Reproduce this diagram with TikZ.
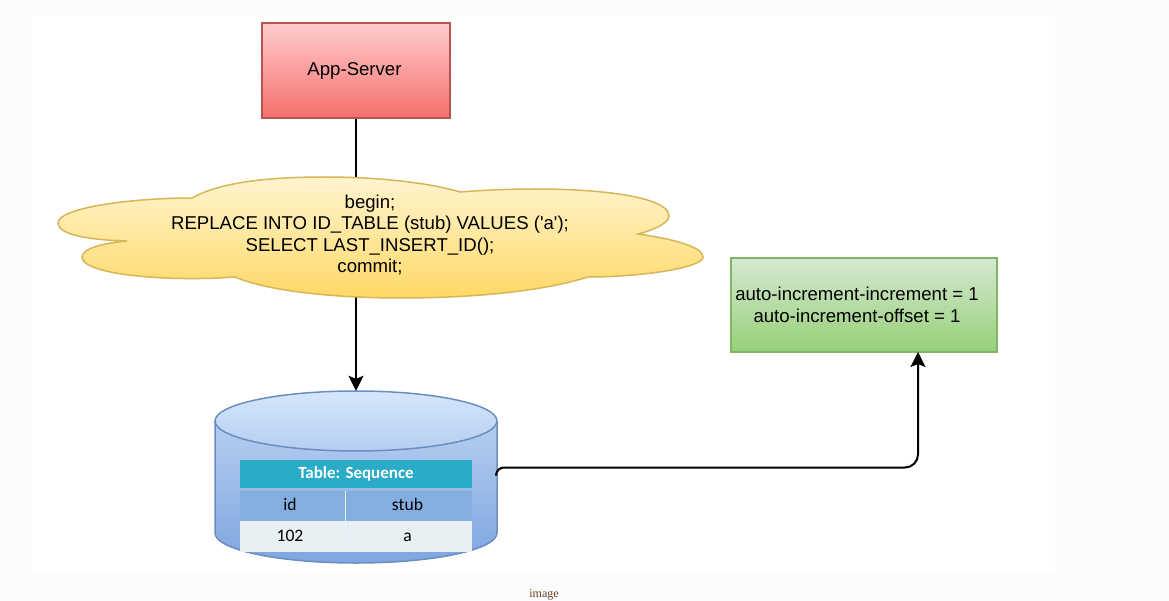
\documentclass[tikz,border=0pt]{standalone}
\usepackage{fontspec}
\setmainfont{Liberation Sans}
\newfontfamily\tablefont{Carlito}
\newfontfamily\captionfont{Liberation Serif}
\usetikzlibrary{arrows.meta,positioning}

\definecolor{pagegray}{HTML}{FCFCFC}
\definecolor{redtop}{HTML}{FFCDCD}
\definecolor{redbot}{HTML}{F56F6C}
\definecolor{redline}{HTML}{B85450}
\definecolor{cloudtop}{HTML}{FFF4D0}
\definecolor{cloudbot}{HTML}{FFD966}
\definecolor{cloudline}{HTML}{D6B656}
\definecolor{greentop}{HTML}{D5E8D4}
\definecolor{greenbot}{HTML}{97D077}
\definecolor{greenline}{HTML}{82B366}
\definecolor{dbtop}{HTML}{D6E6FC}
\definecolor{dbmid}{HTML}{B5CEF0}
\definecolor{dbbot}{HTML}{7EA6E0}
\definecolor{dbline}{HTML}{6C8EBF}
\definecolor{titlecyan}{HTML}{2AACC8}
\definecolor{headblue}{HTML}{84AEE0}
\definecolor{rowgray}{HTML}{E9F0F4}

\tikzset{
  flowbox/.style={draw, line width=1.5pt, inner sep=0pt},
  flowtext/.style={inner sep=0pt, align=center, font=\fontsize{18.6}{21.5}\selectfont},
  conn/.style={line width=2pt, -{Stealth[length=15pt,width=15pt,inset=3pt]}},
  cell/.style={inner sep=0pt, text height=11pt, text depth=3pt, font=\tablefont\fontsize{17.6}{19}\selectfont}
}

\begin{document}
\begin{tikzpicture}[x=1pt,y=-1pt]
  \useasboundingbox (0,0) rectangle (1169,601);
  % page and white panel
  \fill[pagegray] (0,0) rectangle (1169,601);
  \fill[white] (32,16) rectangle (1055,573);

  %-----------------------------
  % boxes
  \node[flowbox, minimum width=188pt, minimum height=95pt, draw=redline,
        top color=redtop, bottom color=redbot] (appserver) at (356,70.5) {};
  \node[flowtext] (apptext) at (354.5,71) {App-Server};
  \node[flowbox, minimum width=266pt, minimum height=94pt, draw=greenline,
        top color=greentop, bottom color=greenbot] (config) at (864,305) {};
  \node[flowtext] (configtext) at (857,305)
        {auto-increment-increment = 1\\auto-increment-offset = 1};

  %-----------------------------
  % the cylinder, with an empty node to aim at
  \node[minimum width=282pt, minimum height=172pt, inner sep=0pt] (dbnode) at (356,477) {};
  \fill[top color=dbmid, bottom color=dbbot] (215,421) -- (215,533)
       arc[start angle=180, end angle=360, x radius=141, y radius=-30]
       -- (497,421) -- cycle;
  \draw[dbline, line width=1.5pt] (215,421) -- (215,533)
       arc[start angle=180, end angle=360, x radius=141, y radius=-30] -- (497,421);
  \draw[dbline, line width=1.5pt, top color=dbtop, bottom color=dbmid]
       (356,421) ellipse[x radius=141, y radius=30];

  % table on the cylinder
  \fill[titlecyan] (240,460) rectangle (472,488);
  \fill[headblue] (240,491) rectangle (472,521);
  \fill[rowgray] (240,521) rectangle (472,552);
  \draw[white!85!headblue, line width=0.8pt] (345,491) -- (345,552);
  \node[cell, text=white, font=\tablefont\bfseries\fontsize{17}{19}\selectfont] (title) at (356,474) {Table: Sequence};
  \node[cell] (idhead) at (290,506) {id};
  \node[cell] (stubhead) at (407.5,506) {stub};
  \node[cell] (idcell) at (290,537) {102};
  \node[cell] (stubcell) at (407.5,537) {a};

  %-----------------------------
  % connectors, the first one runs behind the cloud
  \draw[conn] (appserver) -- (dbnode);
  \coordinate (dbside) at (496,475);
  \coordinate (configport) at (918,352);
  \draw[conn, rounded corners=8pt] (dbside) |- (700,467.5) [rounded corners=13pt] -| (configport);

  %-----------------------------
  % cloud
  \draw[cloudline, line width=1.5pt, top color=cloudtop, bottom color=cloudbot]
    (192,198) .. controls (220,182) and (270,177) .. (325,177)
    .. controls (380,177) and (430,183) .. (460,192)
    .. controls (560,184) and (669,192) .. (669,216)
    .. controls (669,224) and (650,231) .. (638,234)
    .. controls (680,240) and (703,248) .. (703,257)
    .. controls (703,268) and (640,277) .. (588,277)
    .. controls (540,292) and (470,298) .. (400,298)
    .. controls (340,298) and (270,292) .. (235,277)
    .. controls (170,282) and (82,275) .. (82,257)
    .. controls (82,248) and (105,243) .. (127,241)
    .. controls (90,240) and (58,235) .. (58,223)
    .. controls (58,208) and (130,198) .. (192,198) -- cycle;
  \node[flowtext] (cloudtext) at (370,235)
    {begin;\\REPLACE INTO ID\_TABLE (stub) VALUES (\textquotesingle a\textquotesingle);\\SELECT LAST\_INSERT\_ID();\\commit;};

  \node[inner sep=0pt, text=black!50!brown, font=\captionfont\fontsize{12}{14}\selectfont] (caption) at (544,594.5) {image};
\end{tikzpicture}
\end{document}
